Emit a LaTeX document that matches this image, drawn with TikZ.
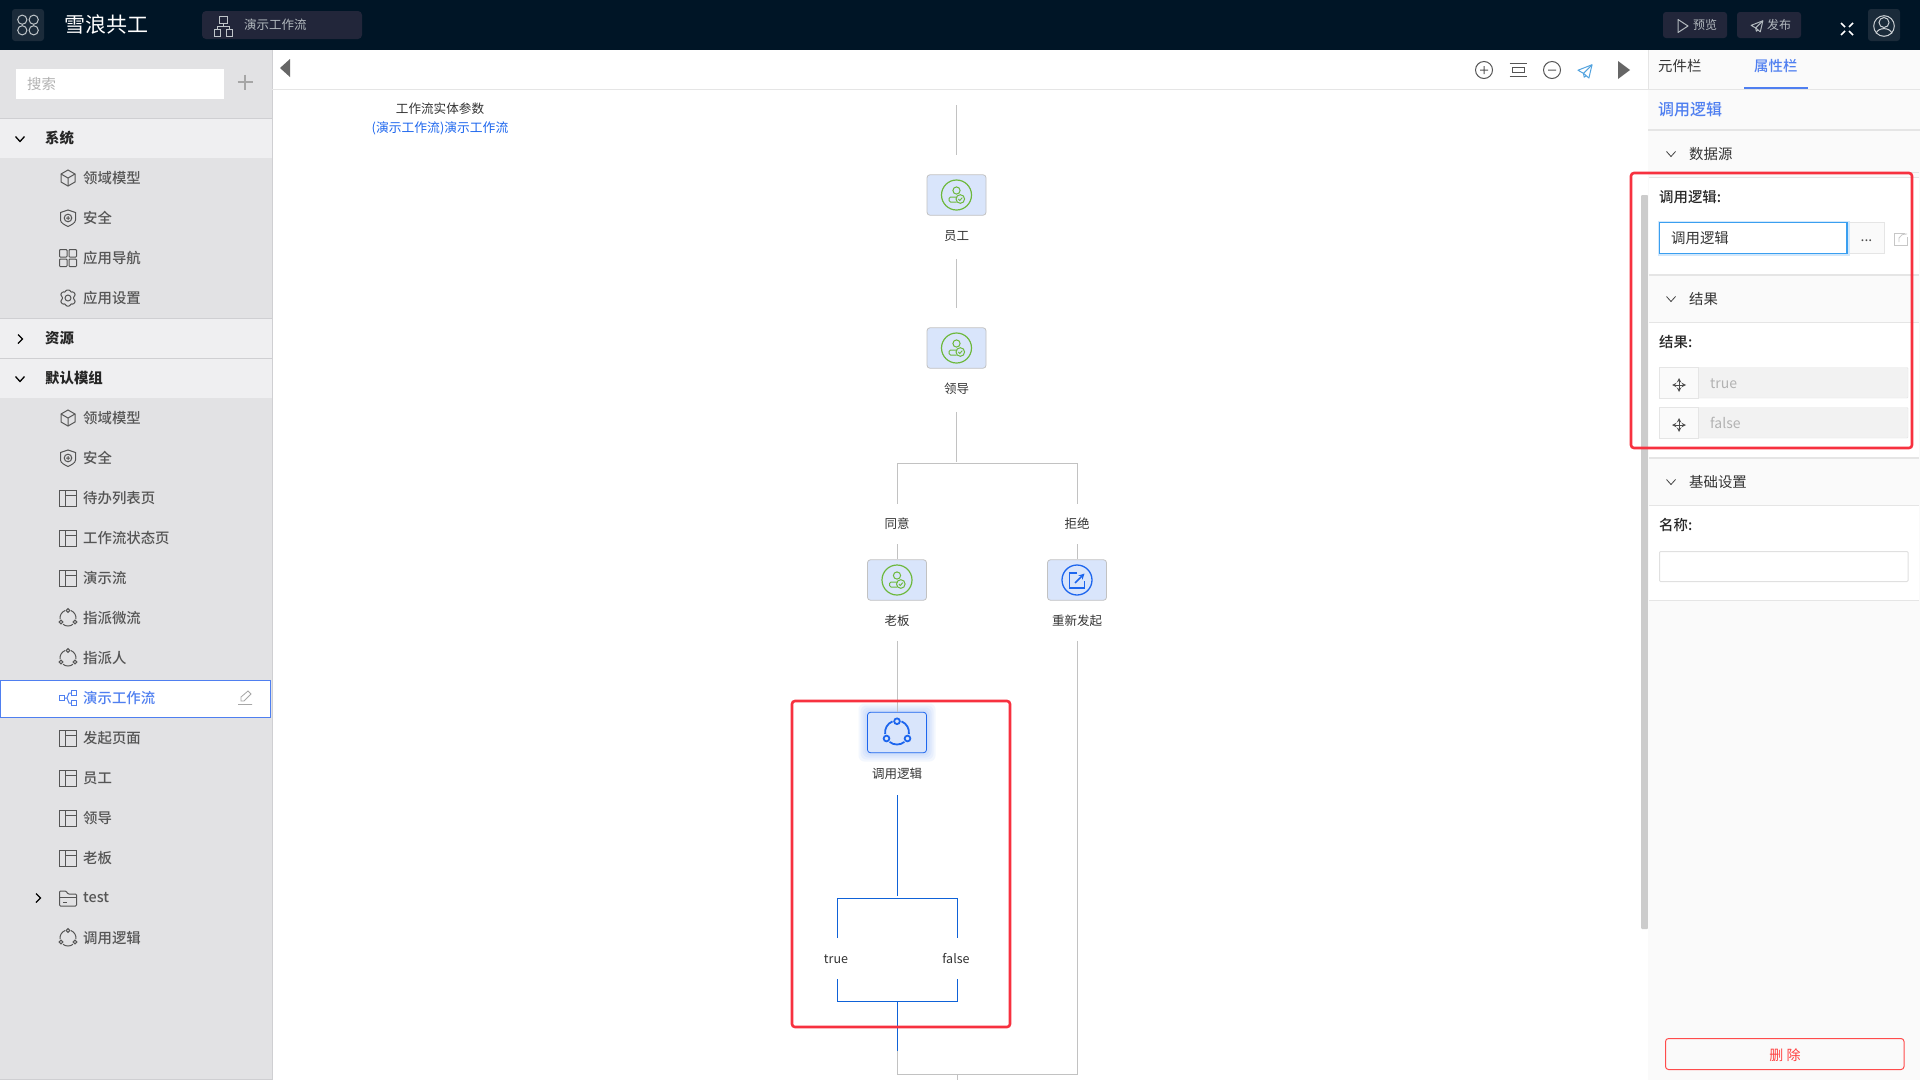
\documentclass[tikz,border=0pt]{standalone}
\usepackage{xcolor}
\usepackage{fontspec}
\setmainfont{Noto Sans CJK SC}
\newfontfamily\medfont{Noto Sans CJK SC Medium}
\usetikzlibrary{positioning,calc}
\definecolor{topbar}{HTML}{001526}
\definecolor{topbtn}{HTML}{22263A}
\definecolor{logobox}{HTML}{1B2B3A}
\definecolor{sidebg}{HTML}{E2E2E4}
\definecolor{sidehead}{HTML}{EFEFF1}
\definecolor{sideline}{HTML}{CFCFD2}
\definecolor{rowgray}{HTML}{555555}
\definecolor{panelbg}{HTML}{FAFAFA}
\definecolor{panelline}{HTML}{E5E5E5}
\definecolor{flowgray}{HTML}{C2C2C2}
\definecolor{flowblue}{HTML}{0F62D8}
\definecolor{boxfill}{HTML}{D9E5FB}
\definecolor{iconblue}{HTML}{1D66EE}
\definecolor{icongreen}{HTML}{6DB83C}
\definecolor{linkblue}{HTML}{4F7FF0}
\definecolor{markred}{HTML}{F7313F}
\definecolor{inputblue}{HTML}{3A9FF0}
\definecolor{inputglow}{HTML}{D3E8FB}
\tikzset{
  txt/.style={inner sep=0pt,font=\fontsize{#1}{#1}\selectfont},
  medtxt/.style={inner sep=0pt,font=\fontsize{#1}{#1}\selectfont\medfont},
  rowtext/.style={medtxt=14.4,anchor=west,text=rowgray},
  headtext/.style={anchor=west,inner sep=0pt,text=black!85,font=\fontsize{14.4}{14.4}\selectfont\bfseries},
  paneltext/.style={txt=14.4,anchor=west,text=black!80},
  fieldtext/.style={medtxt=14.4,anchor=west,text=black!85},
  flowbox/.style={draw=flowgray,line width=.8pt,fill=boxfill,rounded corners=3pt,minimum width=59pt,minimum height=40.5pt,inner sep=0pt},
  flowlabel/.style={txt=12.5,text=black!80,minimum height=16pt},
  flowline/.style={draw=flowgray,line width=1pt},
  blueline/.style={draw=flowblue,line width=1pt},
  gapline/.style={flowline,shorten <=15pt,shorten >=19pt},
  redbox/.style={draw=markred,line width=2.6pt,rounded corners=3pt},
  icoline/.style={draw=rowgray,line width=1pt},
  pics/cubeico/.style={code={
    \path[pic actions] (0,-8)--(7,-4)--(7,4)--(0,8)--(-7,4)--(-7,-4)--cycle;
    \path[pic actions] (-7,-4)--(0,0)--(7,-4) (0,0)--(0,8);}},
  pics/shieldico/.style={code={
    \path[pic actions] (0,-8)--(7.5,-5.5)--(7.5,2) .. controls (7.5,5) and (3,7) .. (0,8.5) .. controls (-3,7) and (-7.5,5) .. (-7.5,2)--(-7.5,-5.5)--cycle;
    \path[pic actions] (0,0) circle (3.8) (-2,0)--(2,0) (0,-2)--(0,2);}},
  pics/gridico/.style={code={
    \foreach \ix/\iy in {-8.5/-8.5,1/-8.5,-8.5/1,1/1}
      \path[pic actions,rounded corners=.8pt] (\ix,\iy) rectangle ++(7.5,7.5);}},
  pics/gearico/.style={code={
    \path[pic actions] (0,0) circle (3);
    \path[pic actions,rounded corners=1pt] (-2,-8)--(2,-8)--(2.8,-5.6)--(5.4,-6.4)--(7.6,-3)--(5.6,-1.4)--(5.6,1.4)--(7.6,3)--(5.4,6.4)--(2.8,5.6)--(2,8)--(-2,8)--(-2.8,5.6)--(-5.4,6.4)--(-7.6,3)--(-5.6,1.4)--(-5.6,-1.4)--(-7.6,-3)--(-5.4,-6.4)--(-2.8,-5.6)--cycle;}},
  pics/tableico/.style={code={
    \path[pic actions] (-8.5,-7.5) rectangle (8.5,8);
    \path[pic actions] (-3,-7.5)--(-3,8) (-3,-2.5)--(8.5,-2.5);}},
  pics/shareico/.style={code={
    \path[pic actions] (0,-7.5) circle (1.9) (-7,4) circle (1.9) (7,4) circle (1.9);
    \path[pic actions] (52:8) arc (52:128:8) (172:8) arc (172:248:8) (292:8) arc (292:368:8);}},
  pics/flowico/.style={code={
    \path[pic actions] (-8.5,-2.5) rectangle (-3.5,2.5) (3.5,-7.5) rectangle (8.5,-2.5) (3.5,2.5) rectangle (8.5,7.5);
    \path[pic actions] (-3.5,0)--(-1,0)--(1,-5)--(3.5,-5) (-1,0)--(1,5)--(3.5,5);}},
  pics/folderico/.style={code={
    \path[pic actions,rounded corners=1pt] (-8.5,8)--(-8.5,-7)--(-2,-7)--(0,-4)--(8.5,-4)--(8.5,8)--cycle;
    \path[pic actions] (-8.5,-1)--(8.5,-1) (-5,4)--(-1,4);}},
  pics/sendico/.style={code={
    \path[pic actions,line join=round] (-9,-1)--(9,-8)--(5,9)--(-2,3)--cycle;
    \path[pic actions,line join=round] (9,-8)--(-2,3)--(-1,8)--(1.5,6);}},
  pics/chevdown/.style={code={\path[pic actions] (-4.5,-2.5)--(0,2.5)--(4.5,-2.5);}},
  pics/chevright/.style={code={\path[pic actions] (-2,-4.5)--(2.5,0)--(-2,4.5);}},
  pics/moveico/.style={code={
    \path[pic actions,stealth-stealth] (-7,0)--(7,0);
    \path[pic actions,stealth-stealth] (0,-7)--(0,7);}},
  pics/userico/.style={code={
    \draw[icongreen,line width=1.2pt] (0,0) circle (15);
    \draw[icongreen,line width=1pt] (0,-4.5) circle (3.6);
    \draw[icongreen,line width=1pt,rounded corners=1.5pt] (0,7)--(-7.5,7)--(-7.5,2)--(0.5,2);
    \draw[icongreen,line width=1pt] (3.8,4) circle (4.3);
    \draw[icongreen,line width=.9pt] (1.9,4)--(3.3,5.5)--(5.8,2.6);}},
}
\begin{document}
\begin{tikzpicture}[x=1pt,y=-1pt]
\useasboundingbox (0,0) rectangle (1920,1080);
\fill[white] (0,0) rectangle (1920,1080);
% top bar
\fill[topbar] (0,0) rectangle (1920,50);
\fill[logobox,rounded corners=3pt] (12,9) rectangle (44,41);
\foreach \ix/\iy in {-1/-1,1/-1,-1/1,1/1}
  \draw[white!75!topbar,line width=1pt] (28+\ix*5.7,25+\iy*5.3) circle (4.6);
\node[txt=21,anchor=west,text=white] (appname) at (64,25) {雪浪共工};
\fill[topbtn,rounded corners=4pt] (202,11) rectangle (362,39);
\draw[white!75!topbar,line width=1pt] (219,16) rectangle (227,23) (214,29) rectangle (220,36) (226,29) rectangle (232,36) (223,23)--(223,26) (217,29)--(217,26)--(229,26)--(229,29);
\node[txt=12.5,anchor=west,text=white!70!topbar] (appflow) at (244,25) {演示工作流};
\fill[topbtn,rounded corners=3pt] (1663,12) rectangle (1727,38);
\draw[white!70!topbar,line width=1pt,line join=round] (1678,19.5)--(1688,26)--(1678,32.5)--cycle;
\node[txt=12,anchor=west,text=white!70!topbar] (preview) at (1693,25) {预览};
\fill[topbtn,rounded corners=3pt] (1737,12) rectangle (1801,38);
\pic[draw=white!70!topbar,line width=1pt,scale=.65] at (1757,26) {sendico};
\node[txt=12,anchor=west,text=white!70!topbar] (publish) at (1767,25) {发布};
\draw[white,line width=1.5pt] (1841,23)--(1845,27) (1853,23)--(1849,27) (1841,35)--(1845,31) (1853,35)--(1849,31);
\fill[logobox,rounded corners=3pt] (1868,9) rectangle (1900,41);
\draw[white!80!topbar,line width=1pt] (1884,26) circle (10.3) (1884,22.5) circle (5);
\draw[white!80!topbar,line width=1pt] (1876,33.5) .. controls (1878,27) and (1890,27) .. (1892,33.5);
% left side
\fill[sidebg] (0,50) rectangle (272,1080);
\draw[sideline,line width=1pt] (272.5,50)--(272.5,1080);
\draw[sideline,line width=1pt] (0,1079.5)--(272,1079.5);
\fill[white] (16,69) rectangle (224,99);
\node[txt=14.4,anchor=west,text=black!30] (search) at (27,84) {搜索};
\draw[black!35,line width=1.2pt] (237.5,82)--(252.5,82) (245,74.5)--(245,89.5);
\foreach \ya/\yb in {118/158,319/358,359/398}
  \fill[sidehead] (0,\ya) rectangle (272,\yb);
\draw[sideline,line width=1pt] (0,118)--(272,118) (0,318.5)--(272,318.5) (0,358.5)--(272,358.5);
\node[headtext] (groupsys) at (45,138) {系统};
\node[headtext] (groupres) at (45,338) {资源};
\node[headtext] (groupdef) at (45,378) {默认模组};
\pic[draw=black,line width=1.3pt] at (20,139) {chevdown};
\pic[draw=black,line width=1.3pt] at (20,339) {chevright};
\pic[draw=black,line width=1.3pt] at (20,379) {chevdown};
\pic[draw=black,line width=1.3pt] at (38,898) {chevright};
\foreach \y/\name in {178/领域模型,418/领域模型}{
  \pic[icoline] at (68,\y) {cubeico};
  \node[rowtext] (row\y) at (83,\y) {\name};}
\foreach \y in {218,458}{
  \pic[icoline] at (68,\y) {shieldico};
  \node[rowtext] (row\y) at (83,\y) {安全};}
\pic[icoline] at (68,258) {gridico};
\node[rowtext] (row258) at (83,258) {应用导航};
\pic[icoline] at (68,298) {gearico};
\node[rowtext] (row298) at (83,298) {应用设置};
\foreach \y/\name in {498/待办列表页,538/工作流状态页,578/演示流,738/发起页面,778/员工,818/领导,858/老板}{
  \pic[icoline] at (68,\y) {tableico};
  \node[rowtext] (row\y) at (83,\y) {\name};}
\foreach \y/\name in {618/指派微流,658/指派人,938/调用逻辑}{
  \pic[icoline] at (68,\y) {shareico};
  \node[rowtext] (row\y) at (83,\y) {\name};}
\pic[icoline] at (68,898) {folderico};
\node[rowtext] (row898) at (83,898) {test};
\draw[fill=white,draw=linkblue,line width=1pt] (.5,680.5) rectangle (270.5,717.5);
\pic[draw=linkblue,line width=1pt] at (68,698) {flowico};
\node[rowtext,text=linkblue] (row698) at (83,698) {演示工作流};
\draw[black!35,line width=.8pt] (238,704.5)--(252,704.5) (241,701)--(241,697)--(248,691)--(251,694)--(244,701)--cycle;
% canvas toolbar
\draw[panelline,line width=1pt] (272,89)--(1648,89);
\fill[black!60] (290,59)--(290,77)--(280,68)--cycle;
\node[txt=12.6,text=black!80] (paramtitle) at (440,109) {工作流实体参数};
\node[txt=12.8,text=iconblue] (paramlink) at (440,128) {(演示工作流)演示工作流};
\draw[rowgray,line width=1pt] (1484,70) circle (8.5) (1480,70)--(1488,70) (1484,66)--(1484,74);
\draw[rowgray,line width=1pt] (1509.5,63)--(1527,63) (1509.5,76.5)--(1527,76.5) (1512,67) rectangle (1524.5,72.5);
\draw[rowgray,line width=1pt] (1552,70) circle (8.5) (1548,70)--(1556,70);
\pic[draw=cyan!70!blue!70,line width=1pt,scale=.78] at (1585,71) {sendico};
\fill[black!60] (1618,61)--(1630,70)--(1618,79)--cycle;
\fill[black!20,rounded corners=1pt] (1641,195) rectangle (1648,929);
% flow
\coordinate (flowstart) at (956.5,105);
\node[flowbox] (staff) at (956.5,195) {};
\node[flowlabel,below=20pt of staff,anchor=center] (stafflabel) {员工};
\node[flowbox] (leader) at (956.5,348) {};
\node[flowlabel,below=20pt of leader,anchor=center] (leaderlabel) {领导};
\node[flowlabel] (agree) at (897,524) {同意};
\node[flowlabel] (refuse) at (1077,524) {拒绝};
\node[flowbox] (boss) at (897,580) {};
\node[flowlabel,below=20pt of boss,anchor=center] (bosslabel) {老板};
\node[flowbox] (restart) at (1077,580) {};
\node[flowlabel,below=20pt of restart,anchor=center] (restartlabel) {重新发起};
\foreach \g in {9,7,5,3,1}
  \fill[iconblue,opacity=.05,rounded corners=6pt] (867.5-\g,712.5-\g) rectangle (926.5+\g,752.5+\g);
\node[flowbox,draw=iconblue] (callbox) at (897,732.5) {};
\node[flowlabel,below=21pt of callbox,anchor=center] (calllabel) {调用逻辑};
\node[flowlabel] (resulttrue) at (836,959) {true};
\node[flowlabel] (resultfalse) at (956,959) {false};
\coordinate (splitone) at (956.5,463.5);
\coordinate (splitcall) at (897,898);
\coordinate (trueup) at (837,938);
\coordinate (falseup) at (957,938);
\coordinate (truedown) at (837,979);
\coordinate (falsedown) at (957,979);
\coordinate (mergecall) at (897,1001);
\coordinate (blueend) at (897,1051);
\coordinate (mergeflow) at (897,1074.5);
\coordinate (mergeright) at (1077,1074.5);
\coordinate (flowexit) at (957,1080);
\pic at (staff.center) {userico};
\pic at (leader.center) {userico};
\pic at (boss.center) {userico};
\draw[iconblue,line width=1.3pt] (restart.center) circle (15);
\draw[iconblue,line width=1.4pt] (1077,573)--(1069.5,573)--(1069.5,588)--(1084.5,588)--(1084.5,581);
\draw[iconblue,line width=1.6pt,-stealth] (1075,583)--(1084.5,573.5);
\pic[draw=iconblue,line width=1.8pt,scale=1.5] at (callbox.center) {shareico};
\draw[flowline,shorten >=19pt] (flowstart)--(staff);
\draw[gapline] (stafflabel)--(leader);
\draw[flowline,shorten <=15pt,shorten >=2pt] (leaderlabel)--(splitone);
\draw[flowline,shorten <=12pt,shorten >=12pt] (agree)|-(splitone)-|(refuse);
\draw[flowline,shorten <=12pt] (agree)--(boss);
\draw[flowline,shorten <=12pt] (refuse)--(restart);
\draw[flowline,shorten <=12pt] (bosslabel)--(callbox);
\draw[flowline,shorten <=12pt] (restartlabel)|-(mergeright);
\draw[blueline,shorten <=13pt,shorten >=2pt] (calllabel)--(splitcall);
\draw[blueline] (trueup)|-(splitcall)-|(falseup);
\draw[blueline] (truedown)|-(mergecall)-|(falsedown);
\draw[flowline] (blueend)--(mergeflow)--(mergeright);
\draw[flowline] (mergeflow-|flowexit)--(flowexit);
\draw[blueline] (mergecall)--(blueend);
% right panel
\fill[panelbg] (1648,50) rectangle (1920,1080);
\draw[panelline,line width=1pt] (1648,50)--(1648,89)--(1920,89);
\node[paneltext] (tabparts) at (1658,66) {元件栏};
\node[medtxt=14.4,anchor=west,text=linkblue] (tabprops) at (1754,66) {属性栏};
\fill[linkblue] (1744,87) rectangle (1808,89);
\node[medtxt=16,anchor=west,text=linkblue] (proptitle) at (1658,109) {调用逻辑};
\draw[panelline,line width=2pt] (1648,130)--(1920,130);
\fill[white] (1649,177) rectangle (1919,274);
\fill[white] (1649,322) rectangle (1919,457);
\fill[white] (1649,505) rectangle (1919,600);
\draw[panelline,line width=1pt] (1649,172)--(1919,172) (1649,177)--(1919,177) (1649,322)--(1919,322) (1649,505)--(1919,505) (1649,600.5)--(1919,600.5);
\draw[panelline,line width=2pt] (1649,275)--(1919,275) (1649,458)--(1919,458);
\foreach \y/\name in {154/数据源,299/结果,482/基础设置}{
  \pic[draw=black!75,line width=.8pt] at (1671,\y) {chevdown};
  \node[paneltext] (sec\y) at (1689,\y) {\name};}
\node[fieldtext] (fieldcall) at (1659,197) {调用逻辑:};
\draw[fill=panelbg,draw=panelline] (1849,222.5) rectangle (1884,253.5);
\node[txt=14,text=black!70] (morebtn) at (1866.5,241) {...};
\draw[inputglow,line width=3pt] (1659,222) rectangle (1848,254);
\draw[fill=white,draw=inputblue,line width=1.2pt] (1659.5,222.5) rectangle (1847,253.5);
\node[paneltext] (callvalue) at (1671,238) {调用逻辑};
\draw[black!22,line width=.8pt] (1905,233)--(1894.5,233)--(1894.5,245.5)--(1907,245.5)--(1907,237);
\draw[black!22,line width=.8pt] (1899,242)--(1899,238) .. controls (1900,235) and (1903,234) .. (1907,234);
\node[fieldtext] (fieldresult) at (1659,342) {结果:};
\foreach \ya/\yb/\yt/\name in {367/398/384/true,407/438/423/false}{
  \draw[rounded corners=1pt,fill=black!5,draw=panelline] (1659.5,\ya.5) rectangle (1908,\yb);
  \draw[fill=panelbg,draw=panelline] (1659.5,\ya.5) rectangle (1698,\yb);
  \node[txt=14,anchor=west,text=black!30] (val\name) at (1710,\yt) {\name};
  \pic[draw=black!70,line width=1pt] at (1679,\ya+18) {moveico};}
\node[fieldtext] (fieldname) at (1659,525) {名称:};
\draw[fill=white,draw=black!12,line width=1pt,rounded corners=1pt] (1659.5,551.5) rectangle (1908,581.5);
\draw[fill=panelbg,draw=red!70,line width=1pt,rounded corners=3pt] (1665.5,1038.5) rectangle (1904,1069.5);
\node[txt=14,text=red!75] (deletebtn) at (1785,1055) {删 除};
% red marks
\draw[redbox] (792,701) rectangle (1010,1027);
\draw[redbox] (1631,173) rectangle (1912,448);
\end{tikzpicture}
\end{document}
